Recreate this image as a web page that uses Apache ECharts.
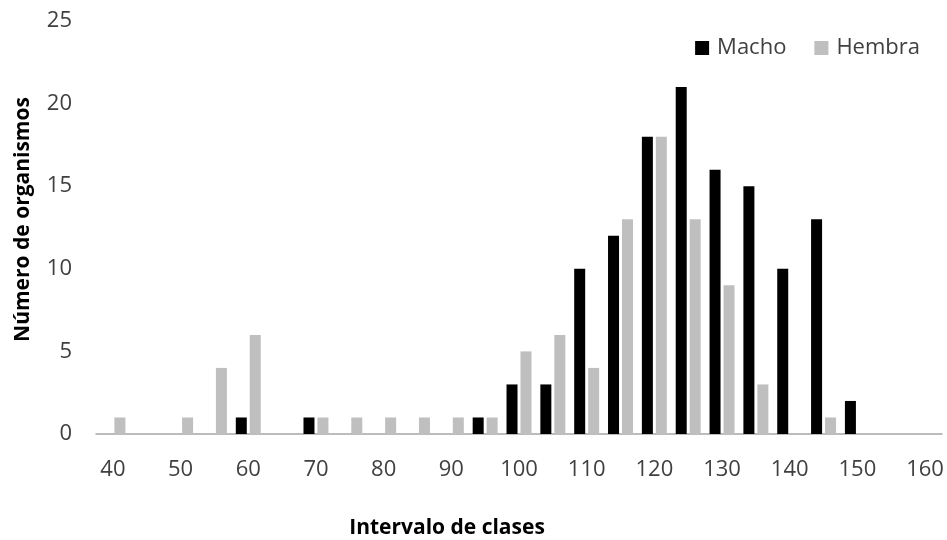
<!DOCTYPE html>
<html>
<head>
<meta charset="utf-8">
<script src="https://cdn.jsdelivr.net/npm/echarts@6/dist/echarts.min.js"></script>
<style>html,body{margin:0;padding:0;background:#fff}#c{width:947px;height:540px}</style>
</head>
<body>
<div id="c"></div>
<script>
var categories = ['40','45','50','55','60','65','70','75','80','85','90','95','100','105','110','115','120','125','130','135','140','145','150','155','160'];
var macho  = [0,0,0,0,1,0,1,0,0,0,0,1,3,3,10,12,18,21,16,15,10,13,2,0,0];
var hembra = [1,0,1,4,6,0,1,1,1,1,1,1,5,6,4,13,18,13,9,3,0,1,0,0,0];
var yTicks = {min:0, max:25, interval:5};

var chart = echarts.init(document.getElementById('c'));
var font = 'Open Sans';
chart.setOption({
  animation:false,
  backgroundColor:'#ffffff',
  grid:{left:96, right:5, top:21, bottom:106, containLabel:false, outerBoundsMode:'none'},
  legend:{
    data:['Macho','Hembra'], right:22, top:32, itemWidth:14, itemHeight:14, itemGap:28,
    icon:'rect',
    textStyle:{fontFamily:font, fontSize:22, color:'#404040', padding:[0,0,0,3]}
  },
  xAxis:{
    type:'category', data:categories,
    name:'Intervalo de clases', nameLocation:'middle', nameGap:84,
    nameTextStyle:{fontFamily:font, fontSize:21, fontWeight:'bold', color:'#000', padding:[0,144,0,0]},
    axisLine:{lineStyle:{color:'#A6A6A6', width:1.5}},
    axisTick:{show:false},
    axisLabel:{interval:1, margin:25, fontFamily:font, fontSize:22, color:'#404040'}
  },
  yAxis:{
    type:'value', min:yTicks.min, max:yTicks.max, interval:yTicks.interval,
    name:'Número de organismos', nameLocation:'middle', nameGap:62,
    nameTextStyle:{fontFamily:font, fontSize:21, fontWeight:'bold', color:'#000', padding:[0,0,0,16]},
    axisLine:{show:false}, axisTick:{show:false}, splitLine:{show:false},
    axisLabel:{margin:24, fontFamily:font, fontSize:22, color:'#404040'}
  },
  series:[
    {name:'Macho', type:'bar', data:macho, barWidth:11, barGap:'27%', itemStyle:{color:'#000000'}},
    {name:'Hembra', type:'bar', data:hembra, barWidth:11, itemStyle:{color:'#BFBFBF'}}
  ]
});
</script>
</body>
</html>
